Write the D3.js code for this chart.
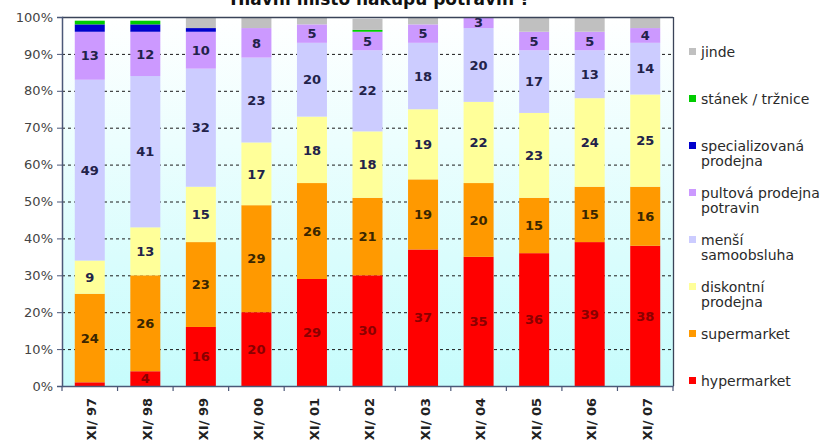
<!DOCTYPE html>
<html><head><meta charset="utf-8">
<script src="https://cdn.jsdelivr.net/npm/d3@7"></script>
<style>html,body{margin:0;padding:0;background:#fff;overflow:hidden}svg{display:block}</style>
</head><body>
<script>
const categories = ["XI/ 97","XI/ 98","XI/ 99","XI/ 00","XI/ 01","XI/ 02","XI/ 03","XI/ 04","XI/ 05","XI/ 06","XI/ 07"];
const hypermarket    = [1, 4, 16, 20, 29, 30, 37, 35, 36, 39, 38];
const supermarket    = [24, 26, 23, 29, 26, 21, 19, 20, 15, 15, 16];
const diskontni      = [9, 13, 15, 17, 18, 18, 19, 22, 23, 24, 25];
const mensi          = [49, 41, 32, 23, 20, 22, 18, 20, 17, 13, 14];
const pultova        = [13, 12, 10, 8, 5, 5, 5, 3, 5, 5, 4];
const specializovana = [2, 2, 1, 0, 0, 0, 0, 0, 0, 0, 0];
const stanek         = [1, 1, 0, 0, 0, 0.5, 0, 0, 0, 0, 0];
const jinde          = [0, 0, 3, 3, 2, 3, 2, 0, 4, 4, 3];
const seriesNames = ["hypermarket","supermarket","diskontní prodejna","menší samoobsluha","pultová prodejna potravin","specializovaná prodejna","stánek / tržnice","jinde"];
const legendLines = [["hypermarket"],["supermarket"],["diskontní","prodejna"],["menší","samoobsluha"],["pultová prodejna","potravin"],["specializovaná","prodejna"],["stánek / tržnice"],["jinde"]];
const labeledSeries = 5; // only the first five series carry value labels
const yTicks = [0,10,20,30,40,50,60,70,80,90,100];
const titleText = "Hlavní místo nákupu potravin ?";

const seriesValues = [hypermarket, supermarket, diskontni, mensi, pultova, specializovana, stanek, jinde];
const colors = ["#ff0000","#ff9900","#ffff99","#ccccff","#cc99ff","#0000cc","#00cc00","#c0c0c0"];
const labelColors = ["#8a0000","#3a2600","#22224a","#22224a","#22224a","#22224a","#22224a","#22224a"];

const W = 829, H = 446;
const L = 62, R = 673, T = 17, B = 386;
const svg = d3.select("body").append("svg").attr("width", W).attr("height", H);
const font = "'DejaVu Sans', Verdana, sans-serif";

const defs = svg.append("defs");
const grad = defs.append("linearGradient").attr("id","bg").attr("x1",0).attr("y1",0).attr("x2",0).attr("y2",1);
grad.append("stop").attr("offset","0%").attr("stop-color","#ffffff");
grad.append("stop").attr("offset","100%").attr("stop-color","#c6fcfc");

const x = d3.scaleBand().domain(categories).range([L, R]).paddingInner(0.46).paddingOuter(0.23);
const y = d3.scaleLinear().domain([0, 100]).range([B, T]);

// title (mostly cut off at top, as in the reference)
svg.append("text").attr("x", 380).attr("y", 5).attr("text-anchor","middle")
  .attr("font-family", font).attr("font-weight","bold").attr("font-size", 17).attr("fill","#111")
  .text(titleText);

// plot background
svg.append("rect").attr("x", L).attr("y", T).attr("width", R - L).attr("height", B - T).attr("fill","url(#bg)");

// gridlines
svg.append("g").selectAll("line").data(yTicks.filter(d => d > 0 && d < 100)).join("line")
  .attr("x1", L).attr("x2", R).attr("y1", d => y(d) + 0.5).attr("y2", d => y(d) + 0.5)
  .attr("stroke","#1a1a1a").attr("stroke-width",1).attr("stroke-dasharray","3,3");

// stacked data
const rows = categories.map((c, i) => {
  const o = {cat: c};
  seriesNames.forEach((s, k) => o[s] = seriesValues[k][i]);
  return o;
});
const stack = d3.stack().keys(seriesNames)(rows);

const gBars = svg.append("g");
stack.forEach((layer, k) => {
  gBars.append("g").selectAll("rect").data(layer.filter(d => d[1] - d[0] > 0)).join("rect")
    .attr("x", d => x(d.data.cat))
    .attr("width", x.bandwidth())
    .attr("y", d => y(d[1]))
    .attr("height", d => y(d[0]) - y(d[1]))
    .attr("fill", colors[k]);
});
stack.slice(0, labeledSeries).forEach((layer, k) => {
  gBars.append("g").selectAll("text").data(layer.filter(d => d[1] - d[0] >= 3)).join("text")
    .attr("x", d => x(d.data.cat) + x.bandwidth() / 2)
    .attr("y", d => y((d[0] + d[1]) / 2))
    .attr("dy","0.36em")
    .attr("text-anchor","middle")
    .attr("font-family", font).attr("font-weight","bold").attr("font-size", 13)
    .attr("fill", labelColors[k])
    .text(d => d3.format("d")(d[1] - d[0]));
});

// frame top/right
svg.append("line").attr("x1", L).attr("x2", R).attr("y1", T + 0.5).attr("y2", T + 0.5).attr("stroke","#3a4358").attr("stroke-width",1.3);
svg.append("line").attr("x1", R + 0.5).attr("x2", R + 0.5).attr("y1", T).attr("y2", B).attr("stroke","#3a4358").attr("stroke-width",1.3);

// y axis
const yAxis = svg.append("g").attr("transform", `translate(${L},0)`)
  .call(d3.axisLeft(y).tickValues(yTicks).tickFormat(d => d + "%").tickSize(5).tickPadding(4));
yAxis.select(".domain").attr("stroke","#4b5878").attr("stroke-width",1.5);
yAxis.selectAll(".tick line").attr("stroke","#4b5878");
yAxis.selectAll("text").attr("font-family", font).attr("font-size", 13).attr("fill","#444");

// x axis
const xAxis = svg.append("g").attr("transform", `translate(0,${B})`)
  .call(d3.axisBottom(x).tickSize(0).tickSizeOuter(0));
xAxis.select(".domain").attr("stroke","#4b5878").attr("stroke-width",1.5);
xAxis.selectAll("text")
  .attr("font-family", font).attr("font-weight","bold").attr("font-size", 13).attr("fill","#222")
  .attr("text-anchor","end")
  .attr("transform","translate(2,12) rotate(-90)")
  .attr("x", 0).attr("y", 0).attr("dy","0.36em");
// separator ticks between categories
const gap = x.step() - x.bandwidth();
const seps = categories.map(c => x(c) - gap / 2).concat([R]);
svg.append("g").selectAll("line").data(seps).join("line")
  .attr("x1", d => d).attr("x2", d => d).attr("y1", B).attr("y2", B + 5)
  .attr("stroke","#4b5878").attr("stroke-width",1.2);

// legend
const legendOrder = d3.range(seriesNames.length).reverse();
const lg = svg.append("g");
legendOrder.forEach((k, i) => {
  const cy = 52 + 47 * i;
  const lines = legendLines[k];
  lg.append("rect").attr("x", 689).attr("y", cy - 4).attr("width", 7).attr("height", 7).attr("fill", colors[k]);
  lines.forEach((t, j) => {
    lg.append("text").attr("x", 701).attr("y", cy + j * 15).attr("dy","0.36em")
      .attr("font-family", font).attr("font-size", 14).attr("fill","#2a2a2a").text(t);
  });
});
</script>
</body></html>
